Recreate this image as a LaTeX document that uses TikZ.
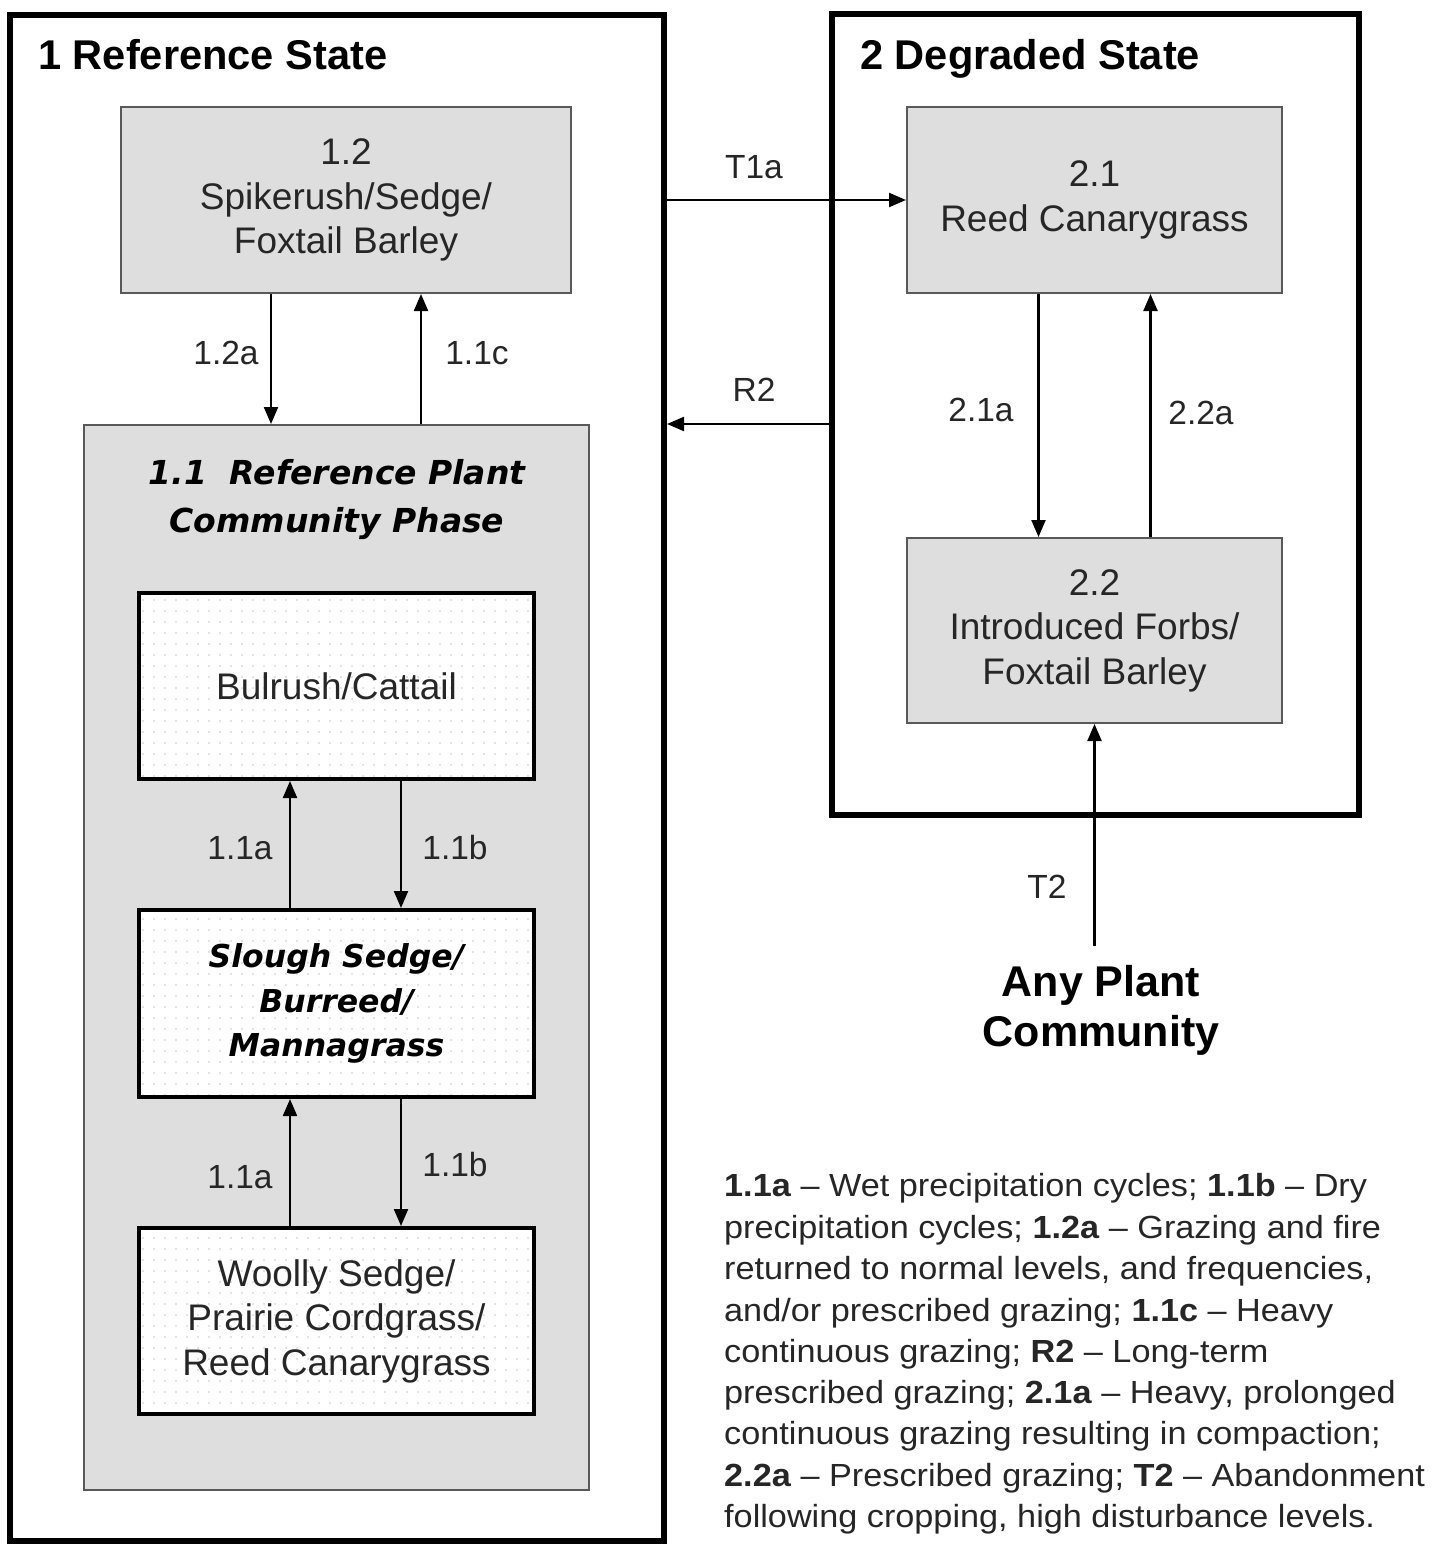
\documentclass[tikz,border=0pt]{standalone}
\usepackage{fontspec}
\setmainfont{Liberation Sans}
\newfontfamily\obl{DejaVu Sans}
\newfontfamily\legfont[FakeStretch=1.07]{Liberation Sans}
\usetikzlibrary{arrows.meta,patterns.meta}
\definecolor{boxgray}{RGB}{222,222,222}
\begin{document}
\begin{tikzpicture}[x=1pt,y=-1pt,
 state/.style={draw=black,line width=6pt,inner sep=0pt},
 graybox/.style={draw=black!65,line width=2pt,fill=boxgray,inner sep=0pt,align=center,text=black!85,font=\fontsize{37}{44.5}\selectfont},
 whitebox/.style={draw=black,line width=4pt,preaction={fill=white},pattern={Dots[distance=11pt,radius=0.8pt]},pattern color=black!22,inner sep=0pt,align=center,text=black!85,font=\fontsize{37}{44.5}\selectfont},
 arr/.style={line width=2.2pt,-{Triangle[length=17pt,width=14pt]}},
 lbl/.style={font=\fontsize{33.5}{38}\selectfont,inner sep=0pt,text=black!85},
 title/.style={font=\fontsize{41.6}{48}\selectfont\bfseries,inner sep=0pt,anchor=base west},
 leg/.style={font=\legfont\fontsize{32}{40}\selectfont,inner sep=0pt,anchor=base west,text=black!85}]
\fill[white] (0,0) rectangle (1444,1546);
\useasboundingbox (0,0) rectangle (1444,1546);
% states
\node[state,minimum width=654,minimum height=1526] (s1) at (337,778) {};
\node[state,minimum width=527,minimum height=801] (s2) at (1095.5,414.5) {};
\node[title] (t1) at (38,70) {1 Reference State};
\node[title] (t2) at (860,70) {2 Degraded State};
% reference state
\node[graybox,minimum width=450,minimum height=186] (b12) at (346,200) {1.2\\Spikerush/Sedge/\\Foxtail Barley};
\node[graybox,minimum width=505,minimum height=1065] (b11) at (336.5,957.5) {};
\node[font=\obl\bfseries\itshape\fontsize{33}{48}\selectfont,align=center,inner sep=0pt] (b11t) at (337,500) {1.1\ \ Reference Plant\\Community Phase};
\node[whitebox,minimum width=395,minimum height=186] (bul) at (336.5,686) {Bulrush/Cattail};
\node[whitebox,minimum width=395,minimum height=187,font=\obl\bfseries\itshape\fontsize{31.5}{44.5}\selectfont,text=black] (slo) at (336.5,1003.5) {Slough Sedge/\\Burreed/\\Mannagrass};
\node[whitebox,minimum width=395,minimum height=186] (woo) at (336.5,1321) {Woolly Sedge/\\Prairie Cordgrass/\\Reed Canarygrass};
% degraded state
\node[graybox,minimum width=375,minimum height=186] (b21) at (1094.5,200) {2.1\\Reed Canarygrass};
\node[graybox,minimum width=375,minimum height=185] (b22) at (1094.5,630.5) {2.2\\Introduced Forbs/\\Foxtail Barley};
\node[font=\bfseries\fontsize{43}{50}\selectfont,align=center,inner sep=0pt] (any) at (1101,1010) {Any Plant\\Community};
\coordinate (t2start) at (1095,946);
% connectors
\draw[arr] ([xshift=-75pt]b12.south) -- ([xshift=-75pt]b12.south |- b11.north);
\draw[arr] ([xshift=75pt]b12.south |- b11.north) -- ([xshift=75pt]b12.south);
\draw[arr] (s1.east |- b21.west) -- (b21.west);
\draw[arr] (s2.west |- b11.north) -- (s1.east |- b11.north);
\draw[arr] ([xshift=-56pt]b21.south) -- ([xshift=-56pt]b21.south |- b22.north);
\draw[arr] ([xshift=56pt]b21.south |- b22.north) -- ([xshift=56pt]b21.south);
\draw[arr] (t2start -| b22.south) -- (b22.south);
\draw[arr] ([xshift=-46.5pt]slo.north) -- ([xshift=-46.5pt]slo.north |- bul.south);
\draw[arr] ([xshift=64.5pt]bul.south) -- ([xshift=64.5pt]bul.south |- slo.north);
\draw[arr] ([xshift=-46.5pt]woo.north) -- ([xshift=-46.5pt]woo.north |- slo.south);
\draw[arr] ([xshift=64.5pt]slo.south) -- ([xshift=64.5pt]slo.south |- woo.north);
% labels
\node[lbl] (l12a) at (226,353) {1.2a};
\node[lbl] (l11c) at (477,353) {1.1c};
\node[lbl] (lt1a) at (754,167) {T1a};
\node[lbl] (lr2) at (754,390) {R2};
\node[lbl] (l21a) at (981,410) {2.1a};
\node[lbl] (l22a) at (1201,413) {2.2a};
\node[lbl] (lt2) at (1047,887) {T2};
\node[lbl] (l11a1) at (240,848) {1.1a};
\node[lbl] (l11b1) at (455,848) {1.1b};
\node[lbl] (l11a2) at (240,1177) {1.1a};
\node[lbl] (l11b2) at (455,1165) {1.1b};
% legend
\node[leg] (g1) at (724,1196) {\textbf{1.1a} – Wet precipitation cycles; \textbf{1.1b} – Dry};
\node[leg] (g2) at (724,1238) {precipitation cycles; \textbf{1.2a} – Grazing and fire};
\node[leg] (g3) at (724,1279) {returned to normal levels, and frequencies,};
\node[leg] (g4) at (724,1321) {and/or prescribed grazing; \textbf{1.1c} – Heavy};
\node[leg] (g5) at (724,1362) {continuous grazing; \textbf{R2} – Long-term};
\node[leg] (g6) at (724,1403) {prescribed grazing; \textbf{2.1a} – Heavy, prolonged};
\node[leg] (g7) at (724,1444) {continuous grazing resulting in compaction;};
\node[leg] (g8) at (724,1486) {\textbf{2.2a} – Prescribed grazing; \textbf{T2} – Abandonment};
\node[leg] (g9) at (724,1527) {following cropping, high disturbance levels.};
\end{tikzpicture}
\end{document}
